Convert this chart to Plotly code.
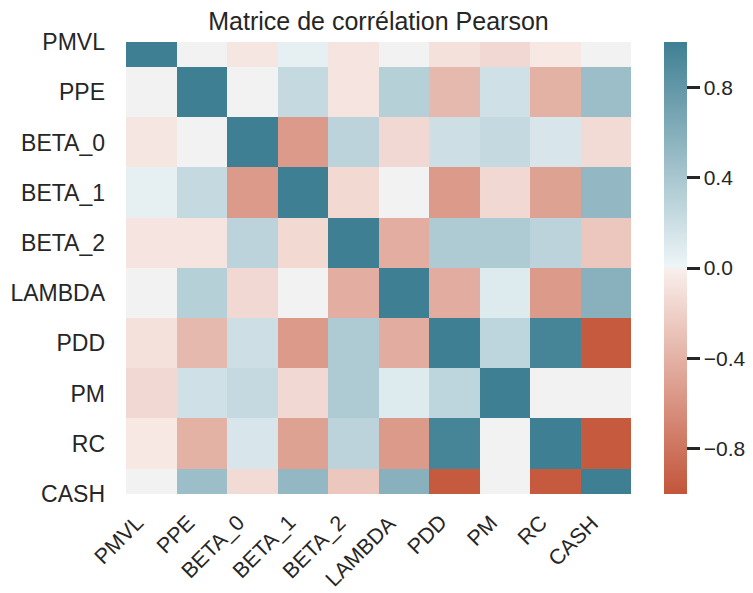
import plotly.graph_objects as go

labels = ["PMVL", "PPE", "BETA_0", "BETA_1", "BETA_2", "LAMBDA", "PDD", "PM", "RC", "CASH"]

row_pmvl   = [1.00,  0.00, -0.06,  0.05, -0.07,  0.00, -0.09, -0.15, -0.05,  0.00]
row_ppe    = [0.00,  1.00,  0.00,  0.24, -0.07,  0.32, -0.35,  0.18, -0.40,  0.47]
row_beta0  = [-0.06, 0.00,  1.00, -0.55,  0.29, -0.15,  0.19,  0.24,  0.13, -0.13]
row_beta1  = [0.05,  0.24, -0.55,  1.00, -0.14,  0.00, -0.55, -0.15, -0.50,  0.52]
row_beta2  = [-0.07, -0.07, 0.29, -0.14,  1.00, -0.42,  0.37,  0.37,  0.29, -0.26]
row_lambda = [0.00,  0.32, -0.15,  0.00, -0.42,  1.00, -0.43,  0.10, -0.55,  0.58]
row_pdd    = [-0.09, -0.35, 0.19, -0.55,  0.37, -0.43,  1.00,  0.28,  0.96, -0.97]
row_pm     = [-0.15,  0.18, 0.24, -0.15,  0.37,  0.10,  0.28,  1.00,  0.00,  0.00]
row_rc     = [-0.05, -0.40, 0.13, -0.50,  0.29, -0.55,  0.96,  0.00,  1.00, -0.97]
row_cash   = [0.00,  0.47, -0.13,  0.52, -0.26,  0.58, -0.97,  0.00, -0.97,  1.00]

corr = [row_pmvl, row_ppe, row_beta0, row_beta1, row_beta2,
        row_lambda, row_pdd, row_pm, row_rc, row_cash]

cbar_ticks = [-0.8, -0.4, 0.0, 0.4, 0.8]

title_text = "Matrice de corrélation Pearson"

text_color = "#262626"
font_family = "Liberation Sans, Arial, sans-serif"

# seaborn-like diverging palette (h_neg=20, h_pos=220): colour -> light tint | grey | light tint -> colour
colorscale = [
    [0.0, "#c3553a"],
    [0.496, "#f9eeeb"],
    [0.5, "#f2f2f2"],
    [0.504, "#edf5f7"],
    [1.0, "#3f7f93"],
]

W, H = 753, 593
ML, MR, MT, MB = 126, 66, 42, 99
plot_h = H - MT - MB
paper_w = W - ML - MR

fig = go.Figure(
    go.Heatmap(
        z=corr,
        x=labels,
        y=labels,
        zmin=-1,
        zmax=1,
        colorscale=colorscale,
        colorbar=dict(
            x=(664 - ML) / paper_w,
            xanchor="left",
            xpad=0,
            ypad=0,
            y=0.5,
            yanchor="middle",
            len=1.0,
            lenmode="fraction",
            thickness=23,
            outlinewidth=0,
            tickvals=cbar_ticks,
            tickformat=".1f",
            ticks="outside",
            ticklen=13,
            tickwidth=2.5,
            tickcolor=text_color,
            tickfont=dict(size=21, color=text_color, family=font_family),
        ),
    )
)

# x tick labels drawn like matplotlib (rotated 45°, right/top aligned at the tick)
for lab in labels:
    fig.add_annotation(
        x=lab,
        xref="x",
        y=-14 / plot_h,
        yref="paper",
        text=lab,
        textangle=-45,
        xanchor="right",
        yanchor="top",
        showarrow=False,
        font=dict(size=21.5, color=text_color, family=font_family),
    )

fig.update_layout(
    width=W,
    height=H,
    margin=dict(l=ML, r=MR, t=MT, b=MB, autoexpand=False),
    paper_bgcolor="white",
    plot_bgcolor="white",
    font=dict(family=font_family, color=text_color),
    title=dict(
        text=title_text,
        x=378.5 / W,
        xanchor="center",
        y=1 - 21 / H,
        yanchor="middle",
        font=dict(size=25, color=text_color, family=font_family),
    ),
    xaxis=dict(
        domain=[0, 505 / paper_w],
        range=[-0.5, 9.5],
        showticklabels=False,
        showgrid=False,
        zeroline=False,
        showline=False,
        ticks="",
        automargin=False,
    ),
    yaxis=dict(
        range=[9, 0],
        showgrid=False,
        zeroline=False,
        showline=False,
        ticks="",
        automargin=False,
        ticklabelstandoff=20,
        tickfont=dict(size=23, color=text_color, family=font_family),
    ),
)

fig.write_html("out.html")
